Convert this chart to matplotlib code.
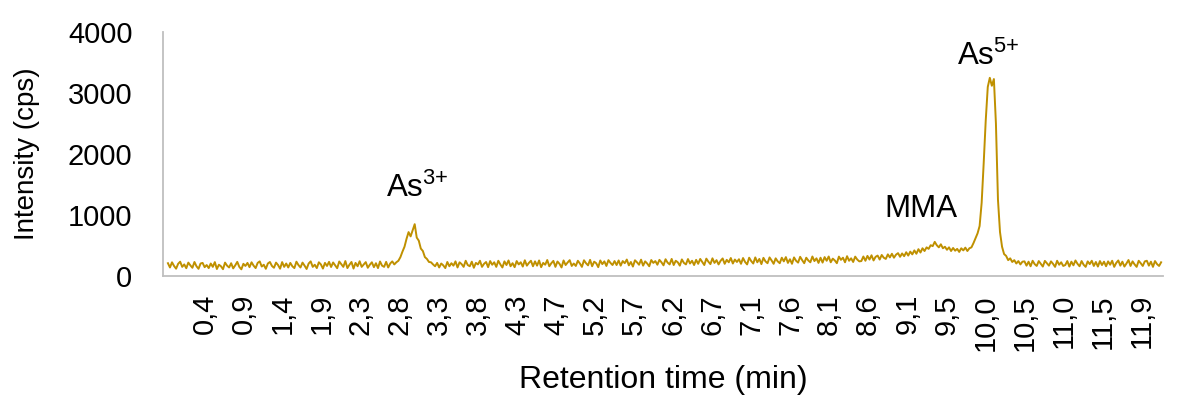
import numpy as np
import matplotlib
matplotlib.use("Agg")
import matplotlib.pyplot as plt

plt.rcParams['font.family'] = ['Liberation Sans', 'DejaVu Sans']
plt.rcParams['mathtext.fontset'] = 'custom'
plt.rcParams['mathtext.rm'] = 'Liberation Sans'
plt.rcParams['mathtext.default'] = 'regular'

# signal sampled every 0.025 min, one row = 0.5 min
dt = 0.025
intensity = [
    210, 140, 225, 165, 120, 200, 235, 150, 190, 128, 220, 175, 135, 230, 160, 118, 205, 215, 145, 180,
    130, 205, 150, 228, 115, 185, 160, 112, 220, 170, 140, 210, 125, 175, 232, 150, 110, 200, 165, 215,
    145, 225, 170, 130, 215, 240, 155, 185, 118, 205, 230, 165, 135, 220, 180, 120, 228, 150, 205, 140,
    215, 160, 130, 235, 180, 140, 220, 170, 115, 205, 240, 150, 185, 130, 225, 190, 122, 215, 165, 232,
    148, 222, 175, 128, 238, 195, 150, 245, 130, 185, 230, 122, 215, 160, 242, 150, 190, 228, 135, 185,
    225, 145, 210, 130, 238, 170, 150, 232, 140, 205, 240, 190, 225, 250, 310, 400, 480, 610, 720, 650,
    750, 850, 630, 580, 450, 410, 310, 280, 230, 225, 190, 160, 215, 140, 205, 175, 130, 230, 160, 210,
    170, 240, 140, 225, 195, 150, 250, 180, 160, 235, 135, 215, 190, 250, 150, 200, 230, 145, 245, 185,
    225, 150, 250, 190, 140, 240, 180, 255, 160, 210, 145, 245, 190, 225, 155, 258, 170, 215, 250, 160,
    240, 170, 255, 145, 215, 185, 262, 160, 210, 248, 150, 238, 200, 140, 255, 180, 222, 260, 165, 205,
    165, 250, 205, 150, 258, 210, 175, 265, 160, 235, 210, 145, 255, 195, 240, 165, 260, 215, 180, 245,
    180, 255, 170, 245, 210, 270, 175, 230, 155, 258, 225, 185, 268, 170, 240, 205, 160, 262, 215, 245,
    185, 265, 225, 175, 275, 220, 190, 280, 180, 250, 225, 170, 272, 215, 190, 278, 205, 250, 180, 265,
    200, 280, 230, 180, 285, 235, 195, 290, 215, 260, 190, 250, 288, 200, 265, 225, 295, 205, 270, 230,
    275, 200, 295, 230, 190, 300, 245, 205, 305, 225, 280, 195, 298, 240, 210, 305, 255, 200, 290, 240,
    210, 300, 240, 310, 215, 275, 200, 305, 250, 220, 315, 260, 210, 300, 255, 225, 320, 245, 290, 215,
    300, 220, 310, 250, 320, 225, 285, 255, 210, 318, 265, 300, 225, 325, 250, 290, 230, 318, 270, 240,
    245, 320, 250, 330, 270, 340, 255, 315, 335, 270, 345, 300, 280, 355, 305, 365, 300, 350, 375, 315,
    370, 325, 390, 335, 400, 355, 420, 365, 440, 385, 455, 410, 470, 445, 505, 490, 560, 505, 470, 520,
    455, 480, 430, 470, 410, 460, 415, 445, 395, 455, 420, 465, 410, 455, 470, 540, 620, 700, 820, 1200,
    1850, 2550, 3100, 3250, 3120, 3230, 2500, 1250, 720, 480, 360, 330, 260, 290, 230, 260, 205, 245, 190, 235,
    240, 170, 235, 160, 250, 195, 165, 245, 200, 155, 248, 210, 170, 240, 200, 150, 250, 185, 225, 165,
    180, 245, 155, 235, 175, 255, 200, 160, 245, 185, 150, 240, 195, 250, 165, 230, 155, 245, 180, 235,
    160, 240, 185, 250, 150, 215, 255, 170, 235, 155, 205, 262, 165, 240, 190, 150, 250, 210, 165, 240,
    250, 170, 235, 150, 245, 195, 165, 225,
]
time = np.arange(len(intensity)) * dt

tick_labels = ['0,4', '0,9', '1,4', '1,9', '2,3', '2,8', '3,3', '3,8', '4,3', '4,7', '5,2', '5,7',
               '6,2', '6,7', '7,1', '7,6', '8,1', '8,6', '9,1', '9,5', '10,0', '10,5', '11,0',
               '11,5', '11,9']
peak_labels = ['As$^{3{+}}$', 'MMA', 'As$^{5{+}}$']
peak_label_pos = [(3.06, 1295), (9.23, 972), (10.06, 3459)]

fig = plt.figure(figsize=(11.78, 3.96), dpi=100)
ax = fig.add_axes([0.1384, 0.303, 0.849, 0.616])
ax.plot(time, intensity, color='#BF9000', lw=1.4)

ax.set_xlim(-0.06, 12.2)
ax.set_ylim(0, 4000)
ax.set_yticks([0, 1000, 2000, 3000, 4000])
ax.set_xticks(0.45 + 0.4785 * np.arange(len(tick_labels)))
ax.set_xticklabels(tick_labels, rotation=90)
ax.tick_params(axis='x', length=0, pad=13, labelsize=21)
ax.tick_params(axis='y', length=0, pad=22, labelsize=21)

for side in ['top', 'right']:
    ax.spines[side].set_visible(False)
for side in ['left', 'bottom']:
    ax.spines[side].set_color('#BFBFBF')
    ax.spines[side].set_linewidth(1.3)

fig.text(0.023, 0.611, 'Intensity (cps)', rotation=90, ha='center', va='center', fontsize=20)
fig.text(0.5628, 0.04, 'Retention time (min)', ha='center', va='center', fontsize=23)

for lab, (x, y) in zip(peak_labels, peak_label_pos):
    ax.text(x, y, lab, ha='center', va='baseline', fontsize=22.5)

fig.savefig('out.png', dpi=100)
